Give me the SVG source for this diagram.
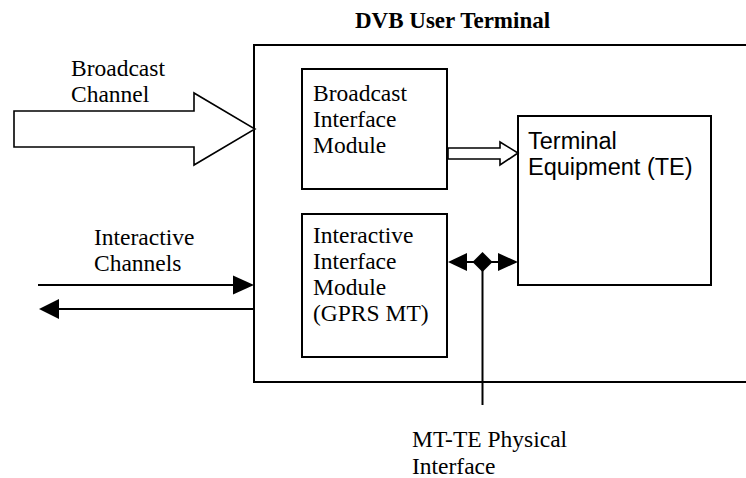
<svg xmlns="http://www.w3.org/2000/svg" width="746" height="478" viewBox="0 0 746 478">
  <style>
    .box { fill: #fff; stroke: #000; stroke-width: 2; }
    .line { fill: none; stroke: #000; stroke-width: 2; }
    .hollow { fill: #fff; stroke: #000; stroke-width: 1.6; stroke-linejoin: miter; }
    .solid { fill: #000; stroke: none; }
    .serif { font-family: "Liberation Serif", "Times New Roman", serif; font-size: 23.5px; fill: #000; }
    .sans { font-family: "Liberation Sans", Arial, sans-serif; font-size: 23.5px; fill: #000; }
    .title { font-family: "Liberation Serif", "Times New Roman", serif; font-size: 23px; font-weight: bold; fill: #000; }
  </style>
  <rect width="746" height="478" fill="#fff"/>

  <!-- DVB user terminal enclosure -->
  <g id="terminal">
    <rect class="box" x="254" y="45" width="520" height="337"/>
    <text class="title" x="355" y="28">DVB User Terminal</text>
  </g>

  <g id="broadcast-module">
    <rect class="box" x="302" y="69" width="145" height="120"/>
    <text class="serif"><tspan x="313" y="101">Broadcast</tspan><tspan x="313" y="127">Interface</tspan><tspan x="313" y="153">Module</tspan></text>
  </g>

  <g id="interactive-module">
    <rect class="box" x="302" y="214" width="145" height="143"/>
    <text class="serif"><tspan x="313" y="243">Interactive</tspan><tspan x="313" y="269">Interface</tspan><tspan x="313" y="295">Module</tspan><tspan x="313" y="321">(GPRS MT)</tspan></text>
  </g>

  <g id="terminal-equipment">
    <rect class="box" x="518" y="116" width="193" height="169"/>
    <text class="sans"><tspan x="528" y="149">Terminal</tspan><tspan x="528" y="175">Equipment (TE)</tspan></text>
  </g>

  <g id="labels">
    <text class="serif"><tspan x="71" y="76">Broadcast</tspan><tspan x="71" y="102">Channel</tspan></text>
    <text class="serif"><tspan x="94" y="245">Interactive</tspan><tspan x="94" y="271">Channels</tspan></text>
    <text class="serif"><tspan x="412" y="447">MT-TE Physical</tspan><tspan x="412" y="474">Interface</tspan></text>
  </g>

  <g id="connectors">
    <!-- broadcast channel block arrow -->
    <polygon class="hollow" points="14,111 194,111 194,93 255,129 194,165 194,147 14,147"/>
    <!-- broadcast module to TE block arrow -->
    <polygon class="hollow" points="448,148 500,148 500,142 518,153 500,165 500,159 448,159"/>
    <!-- interactive channels: uplink and downlink -->
    <line class="line" x1="38" y1="285" x2="236" y2="285"/>
    <polygon class="solid" points="233,275.5 254,285 233,294.5"/>
    <line class="line" x1="56" y1="309" x2="254" y2="309"/>
    <polygon class="solid" points="59,299 39,309 59,319"/>
    <!-- MT-TE physical interface -->
    <line class="line" x1="462" y1="262" x2="502" y2="262"/>
    <polygon class="solid" points="467,253 448,262 467,271"/>
    <polygon class="solid" points="498,253 518,262 498,271"/>
    <polygon class="solid" points="482.5,252 492.5,262 482.5,272 472.5,262"/>
    <line class="line" x1="482.5" y1="262" x2="482.5" y2="405"/>
  </g>
</svg>
